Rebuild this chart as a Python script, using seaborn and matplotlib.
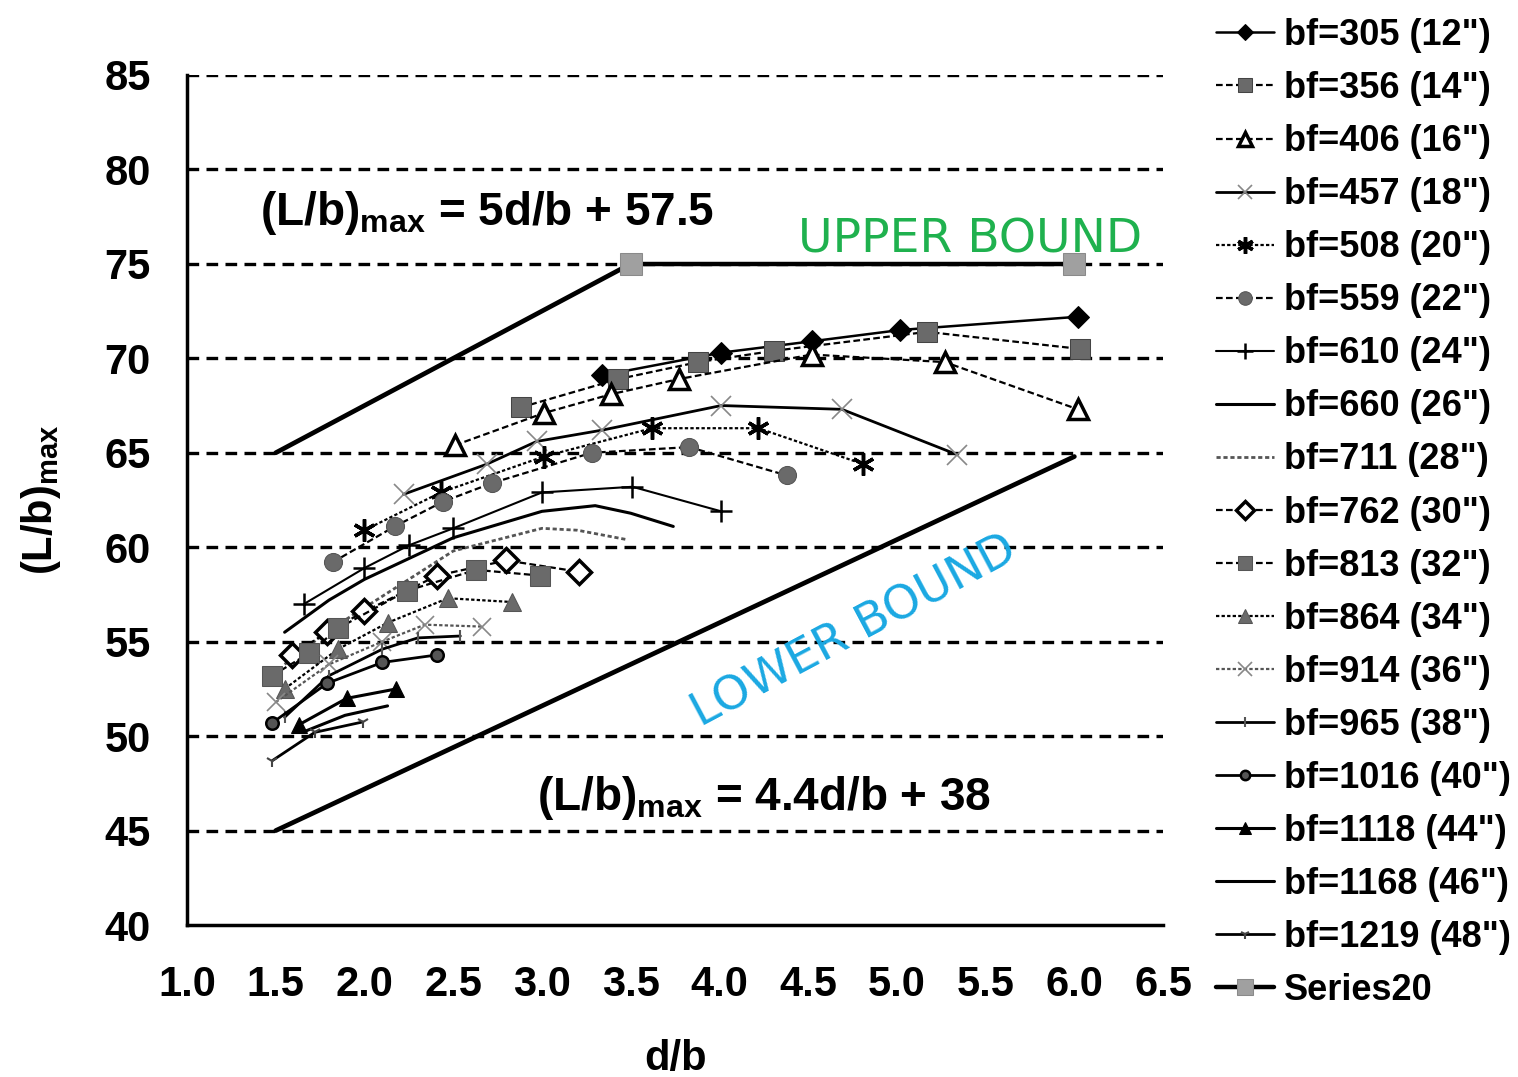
import matplotlib
matplotlib.use("Agg")
import matplotlib.pyplot as plt
import seaborn as sns
import numpy as np

# ---------------- data ----------------
labels = ['bf=305 (12")', 'bf=356 (14")', 'bf=406 (16")', 'bf=457 (18")', 'bf=508 (20")',
          'bf=559 (22")', 'bf=610 (24")', 'bf=660 (26")', 'bf=711 (28")', 'bf=762 (30")',
          'bf=813 (32")', 'bf=864 (34")', 'bf=914 (36")', 'bf=965 (38")', 'bf=1016 (40")',
          'bf=1118 (44")', 'bf=1168 (46")', 'bf=1219 (48")', 'Series20']

x305 = [3.34, 4.01, 4.52, 5.02, 6.02]
y305 = [69.1, 70.3, 70.9, 71.5, 72.2]
x356 = [2.88, 3.43, 3.88, 4.31, 5.17, 6.03]
y356 = [67.4, 68.9, 69.8, 70.4, 71.4, 70.5]
x406 = [2.51, 3.01, 3.39, 3.77, 4.52, 5.27, 6.02]
y406 = [65.4, 67.1, 68.1, 68.9, 70.2, 69.8, 67.3]
x457 = [2.22, 2.69, 2.97, 3.34, 4.01, 4.69, 5.34]
y457 = [62.8, 64.4, 65.6, 66.2, 67.5, 67.3, 64.9]
x508 = [2.00, 2.43, 3.01, 3.62, 4.22, 4.81]
y508 = [60.9, 62.9, 64.8, 66.3, 66.3, 64.4]
x559 = [1.82, 2.17, 2.44, 2.72, 3.28, 3.83, 4.38]
y559 = [59.2, 61.1, 62.4, 63.4, 65.0, 65.3, 63.8]
x610 = [1.66, 2.00, 2.25, 2.50, 3.00, 3.51, 4.01]
y610 = [57.0, 58.9, 60.1, 61.0, 62.9, 63.2, 61.9]
x660 = [1.55, 1.80, 2.00, 2.50, 3.00, 3.30, 3.50, 3.74]
y660 = [55.5, 57.2, 58.3, 60.5, 61.9, 62.2, 61.8, 61.1]
x711 = [1.55, 1.80, 2.00, 2.50, 3.00, 3.20, 3.48]
y711 = [53.8, 55.6, 56.8, 59.8, 61.0, 60.9, 60.4]
x762 = [1.59, 1.79, 2.00, 2.41, 2.80, 3.21]
y762 = [54.3, 55.5, 56.6, 58.5, 59.3, 58.7]
x813 = [1.48, 1.69, 1.85, 2.24, 2.63, 2.99]
y813 = [53.2, 54.4, 55.7, 57.7, 58.8, 58.5]
x864 = [1.55, 1.85, 2.13, 2.47, 2.83]
y864 = [52.5, 54.6, 56.0, 57.3, 57.1]
x914 = [1.50, 1.80, 2.10, 2.34, 2.66]
y914 = [51.8, 53.8, 55.0, 55.9, 55.8]
x965 = [1.55, 1.80, 2.10, 2.30, 2.54]
y965 = [51.0, 53.2, 54.6, 55.2, 55.3]
x1016 = [1.48, 1.79, 2.10, 2.41]
y1016 = [50.7, 52.8, 53.9, 54.3]
x1118 = [1.63, 1.90, 2.18]
y1118 = [50.6, 52.0, 52.5]
x1168 = [1.65, 1.89, 2.13]
y1168 = [50.2, 51.1, 51.6]
x1219 = [1.48, 1.72, 1.99]
y1219 = [48.7, 50.2, 50.75]
xS20 = [3.5, 6.0]
yS20 = [75.0, 75.0]

upper_x = [1.5, 3.5]
upper_y = [65.0, 75.0]
lower_x = [1.5, 6.0]
lower_y = [45.0, 64.8]

xs = [x305, x356, x406, x457, x508, x559, x610, x660, x711, x762,
      x813, x864, x914, x965, x1016, x1118, x1168, x1219, xS20]
ys = [y305, y356, y406, y457, y508, y559, y610, y660, y711, y762,
      y813, y864, y914, y965, y1016, y1118, y1168, y1219, yS20]

xticks = [1.0, 1.5, 2.0, 2.5, 3.0, 3.5, 4.0, 4.5, 5.0, 5.5, 6.0, 6.5]
yticks = [40, 45, 50, 55, 60, 65, 70, 75, 80, 85]

# ---------------- styles ----------------
G = '#6a6a6a'
styles = [
    dict(marker='D', ms=11, mfc='black', mec='black', ls='-', color='black', lw=1.8),
    dict(marker='s', ms=14, mfc=G, mec='#444444', ls=(0, (3, 1.5)), color='black', lw=1.6),
    dict(marker='^', ms=14, mfc='white', mec='black', mew=2.5, ls=(0, (3, 1.5)), color='black', lw=1.6),
    dict(marker='x', ms=14, mfc='none', mec='#888888', mew=1.2, ls='-', color='black', lw=2.0),
    dict(marker=(6, 2, 0), ms=16, mfc='black', mec='black', mew=2.5, ls=(0, (1.5, 1)), color='black', lw=1.6),
    dict(marker='o', ms=13, mfc=G, mec='#555555', ls=(0, (3, 1.5)), color='black', lw=1.6),
    dict(marker='+', ms=16, mfc='none', mec='black', mew=1.8, ls='-', color='black', lw=1.5),
    dict(marker=None, ls='-', color='black', lw=2.2),
    dict(marker=None, ls=(0, (1.5, 1)), color='#555555', lw=2.0),
    dict(marker='D', ms=12, mfc='white', mec='black', mew=2.5, ls=(0, (3, 1.5)), color='black', lw=1.6),
    dict(marker='s', ms=14, mfc=G, mec='#555555', ls=(0, (3, 1.5)), color='black', lw=1.6),
    dict(marker='^', ms=13, mfc=G, mec='#555555', ls=(0, (1.5, 1)), color='black', lw=1.6),
    dict(marker='x', ms=13, mfc='none', mec='#888888', mew=1.2, ls=(0, (1.5, 1)), color='#555555', lw=1.6),
    dict(marker='|', ms=9, mfc='none', mec='#555555', mew=1.5, ls='-', color='black', lw=2.0),
    dict(marker='o', ms=9, mfc='#555555', mec='black', mew=1.8, ls='-', color='black', lw=2.0),
    dict(marker='^', ms=12, mfc='black', mec='black', ls='-', color='black', lw=2.2),
    dict(marker=None, ls='-', color='black', lw=2.2),
    dict(marker='1', ms=9, mfc='none', mec='#444444', mew=1.5, ls='-', color='black', lw=2.0),
    dict(marker='s', ms=16, mfc='#a0a0a0', mec='#8a8a8a', ls='-', color='black', lw=3.2),
]

sns.set_theme(style='white')
plt.rcParams['font.family'] = ['Liberation Sans', 'DejaVu Sans']
plt.rcParams['mathtext.fontset'] = 'custom'
plt.rcParams['mathtext.rm'] = 'Liberation Sans'
plt.rcParams['mathtext.bf'] = 'Liberation Sans:bold'
for k in ['text.color', 'axes.labelcolor', 'xtick.color', 'ytick.color']:
    plt.rcParams[k] = 'black'

fig = plt.figure(figsize=(15.18, 10.77), dpi=100)
ax = fig.add_axes([0.1232, 0.1411, 0.6430, 0.7893])

# grid lines
for yv in yticks[1:]:
    ax.axhline(yv, color='black', lw=2.4, ls=(0, (3.5, 2.2)), zorder=0.5)

# bound lines
sns.lineplot(x=upper_x, y=upper_y, ax=ax, color='black', lw=3.4, legend=False)
sns.lineplot(x=lower_x, y=lower_y, ax=ax, color='black', lw=3.4, legend=False)

for lab, xv, yv, st in zip(labels, xs, ys, styles):
    st = dict(st)
    ls = st.pop('ls')
    sns.lineplot(x=xv, y=yv, ax=ax, sort=False, estimator=None, label=lab,
                 linestyle=ls, **st)

ax.set_xlim(1.0, 6.5)
ax.set_ylim(40, 85)
ax.set_xticks(xticks)
ax.set_yticks(yticks)
ax.set_xticklabels([f'{v:.1f}' for v in xticks], fontsize=30, fontweight='bold')
ax.set_yticklabels([str(v) for v in yticks], fontsize=30, fontweight='bold')
ax.tick_params(axis='both', direction='out', length=12, width=2, color='black', pad=14)
ax.tick_params(axis='x', pad=17)
for s in ['top', 'right']:
    ax.spines[s].set_visible(False)
for s in ['left', 'bottom']:
    ax.spines[s].set_color('black')
    ax.spines[s].set_linewidth(2.5)

ax.set_xlabel('d/b', fontsize=30, fontweight='bold', labelpad=24)
ax.set_ylabel(r'(L/b)$_{\mathbf{max}}$', fontsize=30, fontweight='bold', labelpad=30)

ax.text(1.41, 77.06, r'(L/b)$_{\mathbf{max}}$ = 5d/b + 57.5', fontsize=33,
        fontweight='bold', va='baseline', ha='left')
ax.text(2.97, 46.1, r'(L/b)$_{\mathbf{max}}$ = 4.4d/b + 38', fontsize=33,
        fontweight='bold', va='baseline', ha='left')
ax.text(4.44, 75.58, 'UPPER BOUND', fontsize=34, color='#1fb14e',
        family='DejaVu Sans', va='baseline', ha='left')
ax.text(4.76, 55.5, 'LOWER BOUND', fontsize=34, color='#1aa8e2',
        family='DejaVu Sans', va='center', ha='center', rotation=28,
        rotation_mode='anchor')

handles, labs = ax.get_legend_handles_labels()
if ax.get_legend():
    ax.get_legend().remove()
fig.legend(handles, labs, loc='upper left', bbox_to_anchor=(0.789, 1.0),
           frameon=False, prop={'family': 'Liberation Sans', 'weight': 'bold', 'size': 26},
           labelspacing=0.5, handlelength=1.6, handletextpad=0.3, borderaxespad=0.1,
           markerscale=0.75)

fig.savefig('out.png', dpi=100)
